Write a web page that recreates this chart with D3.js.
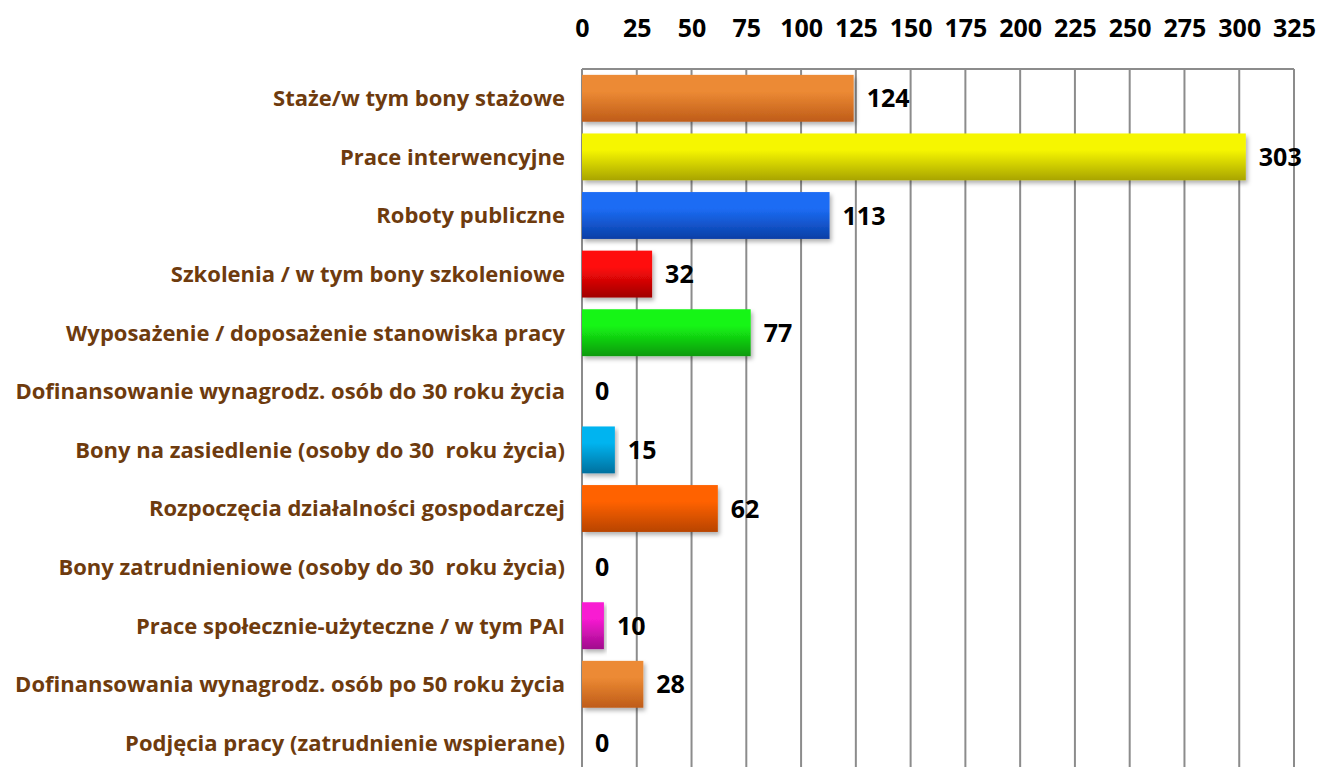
<!DOCTYPE html>
<html lang="pl">
<head>
    <meta charset="UTF-8">
    <title>Formy aktywizacji</title>
    <script src="https://d3js.org/d3.v7.min.js"></script>
    <style>
        body {
            margin: 0;
            background: #ffffff;
            font-family: "Open Sans", Lato, sans-serif;
        }
        .grid line {
            stroke: #8c8c8c;
            stroke-width: 2px;
        }
        .x-axis text {
            font-size: 25px;
            font-weight: bold;
            fill: #000;
        }
        .cat-label {
            font-size: 22px;
            font-weight: bold;
            fill: #6e3b0e;
            white-space: pre;
        }
        .value-label {
            font-size: 25px;
            font-weight: bold;
            fill: #000;
        }
    </style>
</head>
<body>
    <svg width="1321" height="767"></svg>

    <script>
        // data
        const categories = [
            "Staże/w tym bony stażowe",
            "Prace interwencyjne",
            "Roboty publiczne",
            "Szkolenia / w tym bony szkoleniowe",
            "Wyposażenie / doposażenie stanowiska pracy",
            "Dofinansowanie wynagrodz. osób do 30 roku życia",
            "Bony na zasiedlenie (osoby do 30  roku życia)",
            "Rozpoczęcia działalności gospodarczej",
            "Bony zatrudnieniowe (osoby do 30  roku życia)",
            "Prace społecznie-użyteczne / w tym PAI",
            "Dofinansowania wynagrodz. osób po 50 roku życia",
            "Podjęcia pracy (zatrudnienie wspierane)"
        ];
        const values = [124, 303, 113, 32, 77, 0, 15, 62, 0, 10, 28, 0];
        const tickValues = [0, 25, 50, 75, 100, 125, 150, 175, 200, 225, 250, 275, 300, 325];
        // top / bottom colour of each bar's gradient
        const topColors = ["#ec8a34", "#f6f600", "#1c6cf4", "#ff0a0a", "#14f514", "#999", "#00b4f0", "#ff6200", "#999", "#f81ad2", "#ec8a34", "#999"];
        const bottomColors = ["#bf5c18", "#a8a400", "#0b3fa6", "#a00000", "#0c9a0c", "#666", "#06709e", "#b84400", "#666", "#a00c8c", "#bf5c18", "#666"];

        const margin = {top: 69, left: 582};
        const width = 1294 - margin.left;
        const step = 58.6;

        const svg = d3.select("svg");
        const defs = svg.append("defs");

        const shadow = defs.append("filter")
            .attr("id", "shadow")
            .attr("x", "-5%").attr("y", "-20%")
            .attr("width", "115%").attr("height", "150%");
        shadow.append("feDropShadow")
            .attr("dx", 2).attr("dy", 3)
            .attr("stdDeviation", 2)
            .attr("flood-color", "#000")
            .attr("flood-opacity", 0.3);

        categories.forEach((c, i) => {
            const g = defs.append("linearGradient")
                .attr("id", "grad" + i)
                .attr("x1", 0).attr("y1", 0).attr("x2", 0).attr("y2", 1);
            g.append("stop").attr("offset", "0%").attr("stop-color", topColors[i]);
            g.append("stop").attr("offset", "35%").attr("stop-color", topColors[i]);
            g.append("stop").attr("offset", "100%").attr("stop-color", bottomColors[i]);
        });

        const chart = svg.append("g")
            .attr("transform", `translate(${margin.left},${margin.top})`);

        const x = d3.scaleLinear().domain([0, 325]).range([0, width]);
        const y = d3.scaleBand()
            .domain(categories)
            .range([0, step * categories.length])
            .paddingInner(0.2)
            .paddingOuter(0.1);

        // vertical grid lines
        chart.append("g")
            .attr("class", "grid")
            .selectAll("line")
            .data(tickValues)
            .join("line")
            .attr("x1", d => x(d))
            .attr("x2", d => x(d))
            .attr("y1", 0)
            .attr("y2", 767);

        // top border
        chart.append("g")
            .attr("class", "grid")
            .append("line")
            .attr("x1", 0)
            .attr("x2", width)
            .attr("y1", 0)
            .attr("y2", 0);

        // top axis labels
        const xAxis = d3.axisTop(x)
            .tickValues(tickValues)
            .tickSize(0)
            .tickPadding(32);
        chart.append("g")
            .attr("class", "x-axis")
            .call(xAxis)
            .attr("font-family", null)
            .attr("font-size", null)
            .call(g => g.select(".domain").remove());

        // bars
        chart.selectAll(".bar")
            .data(values)
            .join("rect")
            .attr("class", "bar")
            .attr("x", 0)
            .attr("y", (d, i) => y(categories[i]))
            .attr("width", d => x(d))
            .attr("height", y.bandwidth())
            .attr("fill", (d, i) => `url(#grad${i})`)
            .attr("filter", "url(#shadow)")
            .style("display", d => d === 0 ? "none" : null);

        // value labels
        chart.selectAll(".value-label")
            .data(values)
            .join("text")
            .attr("class", "value-label")
            .attr("x", d => x(d) + 13)
            .attr("y", (d, i) => y(categories[i]) + y.bandwidth() / 2)
            .attr("dy", "0.36em")
            .text(d => d);

        // category labels
        chart.selectAll(".cat-label")
            .data(categories)
            .join("text")
            .attr("class", "cat-label")
            .attr("x", -17)
            .attr("y", d => y(d) + y.bandwidth() / 2)
            .attr("dy", "0.36em")
            .attr("text-anchor", "end")
            .text(d => d);
    </script>
</body>
</html>
